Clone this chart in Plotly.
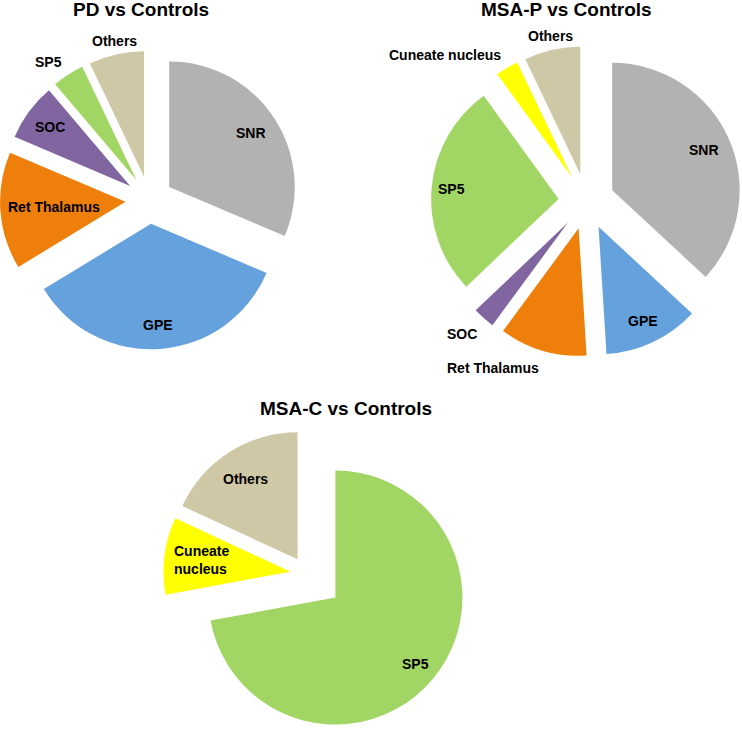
import math
import plotly.graph_objects as go

# ---- data (percent of regions) ----
pd_labels = ["SNR", "GPE", "Ret Thalamus", "SOC", "SP5", "Others"]
pd_values = [31.4, 34.9, 15.1, 7.4, 4.1, 7.1]

msap_labels = ["SNR", "GPE", "Ret Thalamus", "SOC", "SP5", "Cuneate nucleus", "Others"]
msap_values = [36.9, 12.1, 11.1, 2.8, 27.1, 2.9, 7.1]

msac_labels = ["SP5", "Cuneate<br>nucleus", "Others"]
msac_values = [72.1, 9.8, 18.1]

titles = ["PD vs Controls", "MSA-P vs Controls", "MSA-C vs Controls"]

# ---- styles ----
W, H = 742, 738
color_map = {
    "SNR": "#b2b2b2",
    "GPE": "#65a1dd",
    "Ret Thalamus": "#ee7f0b",
    "SOC": "#8165a1",
    "SP5": "#a2d664",
    "Cuneate nucleus": "#ffff00",
    "Cuneate<br>nucleus": "#ffff00",
    "Others": "#cfc8a6",
}
FONT = "Liberation Sans, Arial, sans-serif"
OUT = None  # label placed outside the slice

pd_pull = [0.19] * 6
pd_labelr = [0.78, 0.81, 0.57, 0.79, OUT, OUT]
pd_dom = ([0.0, 0.4025], [0.5257, 0.9322])

msap_pull = [0.22] * 7
msap_labelr = [0.79, 0.82, OUT, OUT, 0.84, OUT, OUT]
msap_dom = ([0.5809, 1.0], [0.5153, 0.9387])

msac_pull = [0.294, 0.129, 0.134]
msac_labelr = [0.82, 0.71, 0.755]
msac_dom = ([0.1919, 0.6348], [0.0, 0.4453])

OUT_R = 1.06


def make_pie(labels, values, pull, dom):
    return go.Pie(
        labels=labels,
        values=values,
        sort=False,
        direction="clockwise",
        rotation=0,
        pull=pull,
        textinfo="none",
        marker=dict(colors=[color_map[l] for l in labels], line=dict(width=0)),
        domain=dict(x=dom[0], y=dom[1]),
        showlegend=False,
        hoverinfo="label+value",
    )


def slice_labels(labels, values, pull, labelr, dom):
    """Label annotations placed along each slice's bisector (same geometry as plotly's pie)."""
    (x0, x1), (y0, y1) = dom
    rx = W * (x1 - x0) / 2
    ry = H * (y1 - y0) / 2
    r = min(rx, ry) / (1 + max(pull))
    cx = W * (x0 + x1) / 2
    cy = H * (1 - (y0 + y1) / 2)
    total = sum(values)
    cum = 0.0
    anns = []
    for lab, v, p, f in zip(labels, values, pull, labelr):
        mid = 2 * math.pi * (cum + v / 2) / total
        cum += v
        sx, sy = math.sin(mid), -math.cos(mid)
        vx, vy = cx + p * r * sx, cy + p * r * sy
        yshift = 0
        if f is None:
            px, py = vx + OUT_R * r * sx, vy + OUT_R * r * sy
            xa = "left" if sx > 0.25 else ("right" if sx < -0.25 else "center")
            ya = "top" if sy > 0.25 else ("bottom" if sy < -0.25 else "middle")
            if ya == "bottom":
                yshift = -4
        else:
            px, py = vx + f * r * sx, vy + f * r * sy
            xa, ya = "center", "middle"
        anns.append(dict(text=lab, x=px / W, y=1 - py / H, xref="paper", yref="paper",
                         xanchor=xa, yanchor=ya, yshift=yshift, showarrow=False,
                         align="left",
                         font=dict(family=FONT, size=14, color="black", weight="bold")))
    return anns


fig = go.Figure()
series = [
    (pd_labels, pd_values, pd_pull, pd_labelr, pd_dom),
    (msap_labels, msap_values, msap_pull, msap_labelr, msap_dom),
    (msac_labels, msac_values, msac_pull, msac_labelr, msac_dom),
]
for labels, values, pull, labelr, dom in series:
    fig.add_trace(make_pie(labels, values, pull, dom))
    for a in slice_labels(labels, values, pull, labelr, dom):
        fig.add_annotation(**a)

title_pos = [(140.5 / W, 1 - 10 / H), (566.7 / W, 1 - 10 / H), (345.5 / W, 1 - 408 / H)]
for t, (x, y) in zip(titles, title_pos):
    fig.add_annotation(text=t, x=x, y=y, xref="paper", yref="paper",
                       xanchor="center", yanchor="middle", showarrow=False,
                       font=dict(family=FONT, size=19, color="black", weight="bold"))

fig.update_layout(
    width=W, height=H,
    margin=dict(l=0, r=0, t=0, b=0, autoexpand=False),
    paper_bgcolor="white", plot_bgcolor="white",
)

fig.write_html("out.html", config={"displayModeBar": False},
               post_script="document.body.style.margin='0';")
